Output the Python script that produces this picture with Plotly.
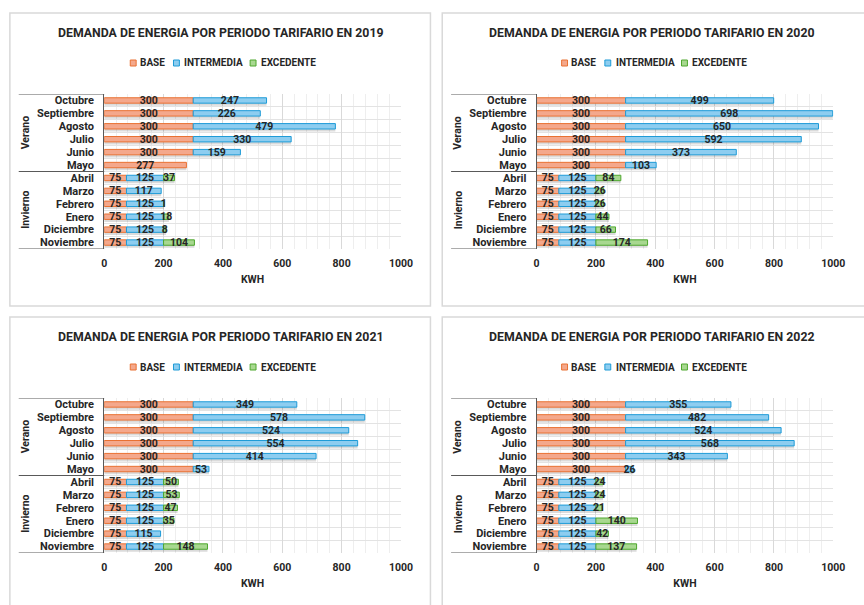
import plotly.graph_objects as go

# ---- data -------------------------------------------------------------
MESES = ["Octubre", "Septiembre", "Agosto", "Julio", "Junio", "Mayo",
         "Abril", "Marzo", "Febrero", "Enero", "Diciembre", "Noviembre"]
GRUPOS = ["Verano", "Invierno"]
SERIES = ["BASE", "INTERMEDIA", "EXCEDENTE"]
YEARS = [2019, 2020, 2021, 2022]

BASE_2019 = [300, 300, 300, 300, 300, 277, 75, 75, 75, 75, 75, 75]
INTER_2019 = [247, 226, 479, 330, 159, None, 125, 117, 125, 125, 125, 125]
EXC_2019 = [None, None, None, None, None, None, 37, None, 1, 18, 8, 104]

BASE_2020 = [300, 300, 300, 300, 300, 300, 75, 75, 75, 75, 75, 75]
INTER_2020 = [499, 698, 650, 592, 373, 103, 125, 125, 125, 125, 125, 125]
EXC_2020 = [None, None, None, None, None, None, 84, 26, 26, 44, 66, 174]

BASE_2021 = [300, 300, 300, 300, 300, 300, 75, 75, 75, 75, 75, 75]
INTER_2021 = [349, 578, 524, 554, 414, 53, 125, 125, 125, 125, 115, 125]
EXC_2021 = [None, None, None, None, None, None, 50, 53, 47, 35, None, 148]

BASE_2022 = [300, 300, 300, 300, 300, 300, 75, 75, 75, 75, 75, 75]
INTER_2022 = [355, 482, 524, 568, 343, 26, 125, 125, 125, 125, 125, 125]
EXC_2022 = [None, None, None, None, None, None, 24, 24, 21, 140, 42, 137]

X_TICKS = [0, 200, 400, 600, 800, 1000]

DATA = {
    2019: (BASE_2019, INTER_2019, EXC_2019),
    2020: (BASE_2020, INTER_2020, EXC_2020),
    2021: (BASE_2021, INTER_2021, EXC_2021),
    2022: (BASE_2022, INTER_2022, EXC_2022),
}

# ---- styling ----------------------------------------------------------
W, H = 864, 605
FONT = "Roboto"
DARK = "#262626"
FILLS = ["#F4A88C", "#8DCDF0", "#A8D890"]
EDGES = ["#E97132", "#1E9BD7", "#4EA72E"]
BAR_W = 0.42

# pixel layout of each panel: (plot left, plot right, plot top, plot bottom, panel centre x)
PANELS = [
    (103, 405, 94, 249, 221.5),
    (543, 845, 94, 249, 660.5),
    (103, 405, 398, 553, 221.5),
    (543, 845, 398, 553, 660.5),
]
FRAMES = [(7, 435, 13, 306), (447, 880, 13, 306), (7, 435, 317, 620), (447, 880, 317, 620)]


def px(x):
    return x / W


def py(y):
    return 1 - y / H


def bold(size):
    return dict(family=FONT, size=size, color=DARK, weight="bold")


fig = go.Figure()
shapes = []
annotations = []
ypos = list(range(len(MESES)))

for i, year in enumerate(YEARS):
    left, right, top, bottom, cx = PANELS[i]
    n = "" if i == 0 else str(i + 1)
    xa, ya = "x" + n, "y" + n
    base, inter, exc = DATA[year]

    b = [v or 0 for v in base]
    it = [v or 0 for v in inter]
    ex = [v or 0 for v in exc]
    totals = [p + q + r for p, q, r in zip(b, it, ex)]

    # soft drop shadow under each full bar
    fig.add_trace(go.Bar(
        y=ypos, x=totals, base=0, orientation="h", xaxis=xa, yaxis=ya,
        width=BAR_W, offset=-BAR_W / 2 + 0.2,
        marker=dict(color="rgba(0,0,0,0.14)", line=dict(width=0)),
        hoverinfo="skip", showlegend=False,
    ))

    starts = [[0] * 12, b, [p + q for p, q in zip(b, it)]]
    for k, vals in enumerate((base, inter, exc)):
        fig.add_trace(go.Bar(
            y=ypos, x=vals, base=starts[k], orientation="h",
            xaxis=xa, yaxis=ya, name=SERIES[k], width=BAR_W,
            marker=dict(color=FILLS[k], line=dict(color=EDGES[k], width=1)),
            text=[str(v) if v else "" for v in vals],
            textposition="inside", insidetextanchor="middle", textangle=0,
            constraintext="none", cliponaxis=False,
            insidetextfont=bold(10.5),
            showlegend=False,
        ))

    fig.update_layout(**{
        "xaxis" + n: dict(
            domain=[px(left), px(right)], anchor=ya, range=[0, 1000],
            tickmode="array", tickvals=X_TICKS,
            showgrid=True, gridcolor="#d9d9d9", gridwidth=1,
            minor=dict(dtick=40, tick0=0, showgrid=True, gridcolor="#eeeeee", ticks=""),
            zeroline=False, showline=False, ticks="",
            tickfont=bold(10.5),
            ticklabelstandoff=6,
            title=dict(text="KWH", standoff=7, font=bold(10.5)),
            fixedrange=True,
        ),
        "yaxis" + n: dict(
            domain=[py(bottom), py(top)], anchor=xa, range=[11.5, -0.5],
            tickmode="array", tickvals=ypos, ticktext=MESES,
            showgrid=False, zeroline=False, ticks="",
            minor=dict(tickmode="array", tickvals=[k - 0.5 for k in range(13)],
                       showgrid=True, gridcolor="#e3e3e3", ticks=""),
            showline=True, linecolor="#595959", linewidth=1,
            tickfont=bold(11),
            ticklabelstandoff=7,
            fixedrange=True,
        ),
    })

    # multi-level category separators
    for yb in (-0.5, 5.5, 11.5):
        shapes.append(dict(type="line", xref="paper", yref=ya,
                           x0=px(left - 87), x1=px(left), y0=yb, y1=yb,
                           line=dict(color="#595959", width=1)))
    for g, yc in zip(GRUPOS, (2.5, 8.5)):
        annotations.append(dict(text=g, xref="paper", yref=ya, x=px(left - 80), y=yc,
                                xanchor="center", yanchor="middle",
                                textangle=-90, showarrow=False, font=bold(10.5)))

    # title
    annotations.append(dict(
        text="DEMANDA DE ENERGIA POR PERIODO TARIFARIO EN %d" % year,
        xref="paper", yref="paper", x=px(cx), y=py(top - 61),
        xanchor="center", yanchor="middle", showarrow=False,
        font=bold(12.3)))

    # legend row
    ly = top - 31
    for k, (sq, tx) in enumerate(zip((-92, -48, 30), (-84, -39, 39))):
        shapes.append(dict(type="rect", xref="paper", yref="paper",
                           x0=px(cx + sq), x1=px(cx + sq + 6),
                           y0=py(ly + 3), y1=py(ly - 3),
                           fillcolor=FILLS[k], line=dict(color=EDGES[k], width=1)))
        annotations.append(dict(text=SERIES[k], xref="paper", yref="paper",
                                x=px(cx + tx), y=py(ly), xanchor="left", yanchor="middle",
                                showarrow=False, font=bold(10)))

    # chart frame
    fx0, fx1, fy0, fy1 = FRAMES[i]
    shapes.append(dict(type="rect", xref="paper", yref="paper", layer="below",
                       x0=px(fx0), x1=px(fx1), y0=py(fy1), y1=py(fy0),
                       line=dict(color="#d9d9d9", width=1.5), fillcolor="rgba(0,0,0,0)"))

fig.update_layout(
    width=W, height=H, margin=dict(l=0, r=0, t=0, b=0),
    paper_bgcolor="white", plot_bgcolor="white",
    barmode="overlay", showlegend=False,
    shapes=shapes, annotations=annotations,
    font=dict(family=FONT, color=DARK),
)

fig.write_html("out.html")
